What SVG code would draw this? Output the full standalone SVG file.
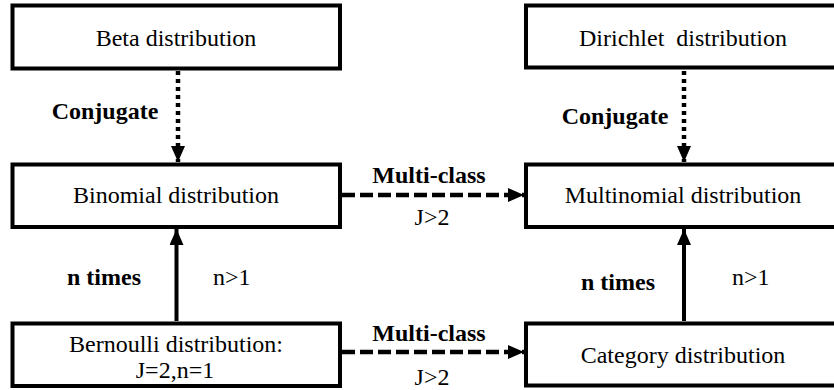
<svg xmlns="http://www.w3.org/2000/svg" width="834" height="390" viewBox="0 0 834 390">
<style>
.box{fill:#fff;stroke:#000;stroke-width:4}
text{font-family:'Liberation Serif','Tinos','Times New Roman','Times','Noto Serif','DejaVu Serif','FreeSerif','Nimbus Roman',serif;font-size:24px;fill:#000;text-anchor:middle}
.b{font-weight:bold}
.s{text-anchor:start}
.dot{stroke:#000;stroke-width:4.5;stroke-dasharray:4 4;fill:none}
.dash{stroke:#000;stroke-width:4.5;stroke-dasharray:13 5;fill:none}
.solid{stroke:#000;stroke-width:4;fill:none}
</style>
<defs>
<marker id="ah" markerUnits="userSpaceOnUse" markerWidth="16" markerHeight="14" refX="16" refY="7" orient="auto">
<path d="M0,0 L16,7 L0,14 Z" fill="#000"/>
</marker>
</defs>
<g id="beta"><rect class="box" x="12.5" y="5.5" width="327.5" height="63"/><text x="176" y="46">Beta distribution</text></g>
<g id="binomial"><rect class="box" x="12.5" y="164.5" width="327.5" height="62.5"/><text x="176" y="203">Binomial distribution</text></g>
<g id="bernoulli"><rect class="box" x="12.5" y="323.5" width="327.5" height="62.5"/><text x="176" y="352">Bernoulli distribution:</text><text x="175" y="378">J=2,n=1</text></g>
<g id="dirichlet"><rect class="box" x="526" y="5.5" width="316" height="62"/><text x="683" y="46" xml:space="preserve">Dirichlet  distribution</text></g>
<g id="multinomial"><rect class="box" x="526" y="164.5" width="316" height="62.5"/><text x="683" y="203">Multinomial distribution</text></g>
<g id="category"><rect class="box" x="526" y="323.5" width="316" height="62"/><text x="683" y="363">Category distribution</text></g>
<g id="connectors">
<line class="dot" x1="178" y1="71" x2="178" y2="162" marker-end="url(#ah)"/>
<line class="dot" x1="684" y1="71" x2="684" y2="162" marker-end="url(#ah)"/>
<line class="solid" x1="176.5" y1="321" x2="176.5" y2="229" marker-end="url(#ah)"/>
<line class="solid" x1="684" y1="321" x2="684" y2="229" marker-end="url(#ah)"/>
<line class="dash" x1="342" y1="195" x2="524" y2="195" marker-end="url(#ah)"/>
<line class="dash" x1="342" y1="352" x2="524" y2="352" marker-end="url(#ah)"/>
<text class="b" x="105" y="119">Conjugate</text>
<text class="b" x="615" y="124">Conjugate</text>
<text class="b" x="104" y="285">n times</text>
<text class="s" x="213" y="285">n&gt;1</text>
<text class="b" x="618" y="290">n times</text>
<text class="s" x="732" y="285">n&gt;1</text>
<text class="b" x="429" y="183">Multi-class</text>
<text x="432" y="225">J&gt;2</text>
<text class="b" x="429" y="341">Multi-class</text>
<text x="432" y="385">J&gt;2</text>
</g>
</svg>
